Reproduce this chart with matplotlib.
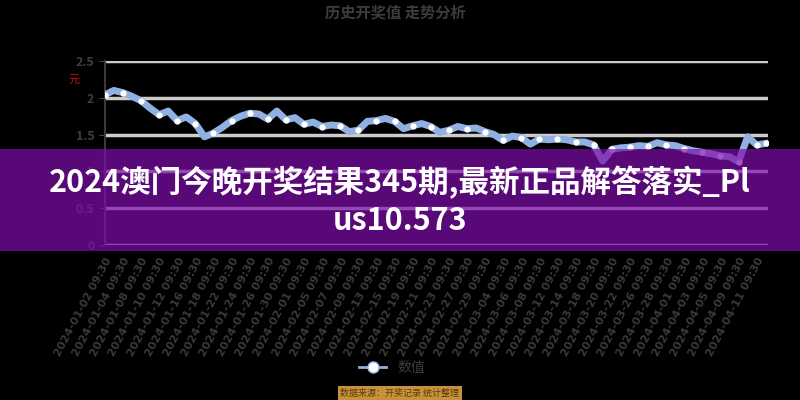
import matplotlib
matplotlib.use('Agg')
import matplotlib.pyplot as plt
from matplotlib.patches import Rectangle

plt.rcParams['font.family'] = ['Noto Sans CJK SC', 'DejaVu Sans']

# data
values = [2.04, 2.10, 2.07, 2.02, 1.96, 1.86, 1.77, 1.82, 1.69, 1.74,
          1.65, 1.47, 1.52, 1.60, 1.69, 1.75, 1.79, 1.78, 1.71, 1.82,
          1.70, 1.73, 1.64, 1.67, 1.61, 1.63, 1.62, 1.54, 1.56, 1.68,
          1.69, 1.72, 1.68, 1.58, 1.62, 1.65, 1.61, 1.53, 1.56, 1.61,
          1.58, 1.59, 1.54, 1.50, 1.42, 1.48, 1.46, 1.37, 1.44, 1.43,
          1.44, 1.43, 1.40, 1.40, 1.36, 1.14, 1.30, 1.32, 1.33, 1.35,
          1.34, 1.39, 1.36, 1.35, 1.31, 1.28, 1.26, 1.24, 1.21, 1.20,
          1.13, 1.47, 1.36, 1.38]

date_labels = ['2024-01-02 09:30', '2024-01-04 09:30', '2024-01-08 09:30', '2024-01-10 09:30',
               '2024-01-12 09:30', '2024-01-16 09:30', '2024-01-18 09:30', '2024-01-22 09:30',
               '2024-01-24 09:30', '2024-01-26 09:30', '2024-01-30 09:30', '2024-02-01 09:30',
               '2024-02-05 09:30', '2024-02-07 09:30', '2024-02-09 09:30', '2024-02-13 09:30',
               '2024-02-15 09:30', '2024-02-19 09:30', '2024-02-21 09:30', '2024-02-23 09:30',
               '2024-02-27 09:30', '2024-02-29 09:30', '2024-03-04 09:30', '2024-03-06 09:30',
               '2024-03-08 09:30', '2024-03-12 09:30', '2024-03-14 09:30', '2024-03-18 09:30',
               '2024-03-20 09:30', '2024-03-22 09:30', '2024-03-26 09:30', '2024-03-28 09:30',
               '2024-04-01 09:30', '2024-04-03 09:30', '2024-04-05 09:30', '2024-04-09 09:30',
               '2024-04-11 09:30']

y_ticks = [0, 0.5, 1, 1.5, 2, 2.5]
y_tick_labels = ['0', '0.5', '1', '1.5', '2', '2.5']

chart_title = '历史开奖值 走势分析'
series_name = '数值'
unit_label = '元'
source_note = '数据来源：开奖记录 统计整理'
banner_line1 = '2024澳门今晚开奖结果345期,最新正品解答落实_Pl'
banner_line2 = 'us10.573'

fig = plt.figure(figsize=(8, 4), dpi=100, facecolor='black')
ax = fig.add_axes([0.131, 0.3875, 0.829, 0.46])
ax.set_facecolor('black')

x = list(range(len(values)))
marker_idx = list(range(0, len(values) - 1, 2)) + [len(values) - 1]
ax.plot(x, values, color='#8fb0e0', lw=5, solid_joinstyle='round',
        marker='o', markevery=marker_idx, ms=3.5, mfc='white', mec='white',
        label=series_name, zorder=3)

ax.set_xlim(0, 73.25)
ax.set_ylim(0, 2.5)
ax.set_yticks(y_ticks)
ax.set_yticklabels(y_tick_labels, color='#3e3e3e', fontsize=9, weight='bold')
ax.grid(axis='y', color='#cccccc', lw=2.5, zorder=1)
ax.set_axisbelow(True)

ax.set_xticks(list(range(0, len(values) - 1, 2)))
ax.set_xticklabels(date_labels, rotation=62, ha='right', rotation_mode='anchor',
                   color='#3a3a3a', fontsize=8, weight='bold', family='DejaVu Sans')
ax.tick_params(axis='x', length=0, pad=8)
ax.tick_params(axis='y', length=4, color='#444444')

for s in ['top', 'right', 'bottom']:
    ax.spines[s].set_visible(False)
ax.spines['left'].set_color('#3a3a3a')
ax.spines['left'].set_linewidth(1.5)

fig.text(0.494, 0.968, chart_title, ha='center', va='center',
         color='#3c3c3c', fontsize=11, weight='bold')
fig.text(0.092, 0.8, unit_label, ha='center', va='center', color='#cc1111', fontsize=8)

leg = fig.legend(handles=ax.get_lines(), loc='center', bbox_to_anchor=(0.49, 0.08),
                 frameon=False, labelcolor='#3c3c3c', fontsize=10, handlelength=2)
for h in leg.legend_handles:
    h.set_linewidth(2)
    h.set_markersize(8)
    h.set_markeredgecolor('#8fb0e0')

fig.text(0.5, 0.018, source_note, ha='center', va='center', color='#5a3a10', fontsize=6.5,
         bbox=dict(boxstyle='square,pad=0.3', fc='#c8923a', ec='none'))

fig.add_artist(Rectangle((0, 0.3725), 1, 0.255, transform=fig.transFigure,
                         facecolor='#800eab', alpha=0.7, edgecolor='none', zorder=10))
fig.text(0.5, 0.545, banner_line1, ha='center', va='center', color='white',
         fontsize=22, weight='bold', zorder=11)
fig.text(0.5, 0.448, banner_line2, ha='center', va='center', color='white',
         fontsize=22, weight='bold', zorder=11)

fig.savefig('out.png', dpi=100, facecolor='black')
